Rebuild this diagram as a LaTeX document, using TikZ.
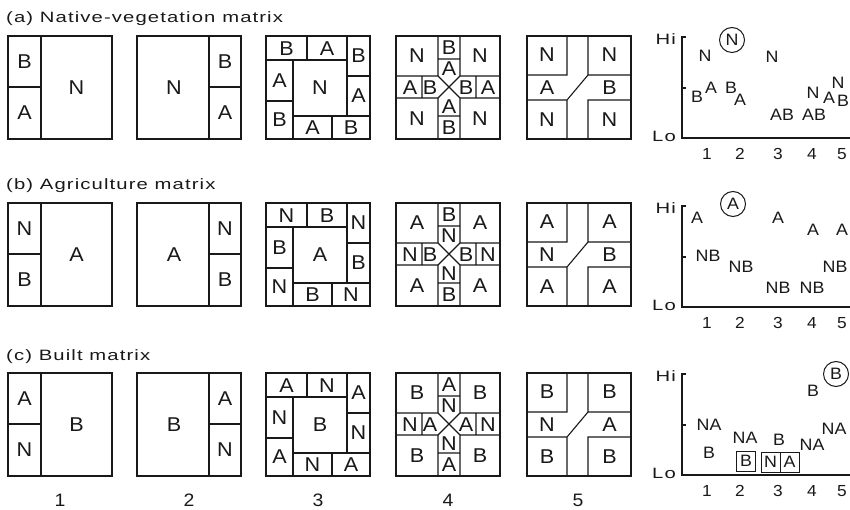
\documentclass[tikz,border=0pt]{standalone}
\usepackage{fontspec}
\setmainfont[FakeStretch=1.08]{Liberation Sans}
\newfontfamily\widefont[FakeStretch=1.35,LetterSpace=7.5]{Liberation Sans}
\definecolor{ink}{RGB}{25,25,25}

% panel type 1: strip on the left, split in two
\newcommand\pOne[5]{%
  \begin{scope}[shift={#2}, name prefix=#1-]
    \draw[cell] (0,0) rectangle (104,103);
    \draw[cell] (33,0) -- (33,103) (0,51) -- (33,51);
    \node[lab] (s1) at (16.5,26) {#3};
    \node[lab] (s2) at (16.5,77) {#4};
    \node[lab] (m)  at (68.5,52) {#5};
  \end{scope}}
% panel type 2: strip on the right, split in two
\newcommand\pTwo[5]{%
  \begin{scope}[shift={#2}, name prefix=#1-]
    \draw[cell] (0,0) rectangle (104,103);
    \draw[cell] (72,0) -- (72,103) (72,51) -- (104,51);
    \node[lab] (s1) at (88,26) {#3};
    \node[lab] (s2) at (88,77) {#4};
    \node[lab] (m)  at (37,52) {#5};
  \end{scope}}
% panel type 3: pinwheel of bars round a central patch
\newcommand\pThree[5]{%
  \begin{scope}[shift={#2}, name prefix=#1-]
    \draw[cell] (0,0) rectangle (104,103);
    \draw[cell] (0,24) -- (81,24) (81,0) -- (81,80) (27,24) -- (27,103)
                (27,80) -- (104,80) (41,0) -- (41,24) (81,40) -- (104,40)
                (66,80) -- (66,103) (0,65) -- (27,65);
    \node[lab] (c)  at (54,52)    {#3};
    \node[lab] (t1) at (20.5,12.5) {#4};
    \node[lab] (t2) at (61,12.5)   {#5};
    \node[lab] (r1) at (92.5,20)   {#4};
    \node[lab] (r2) at (92.5,60)   {#5};
    \node[lab] (b1) at (46.5,91.5) {#5};
    \node[lab] (b2) at (85,91.5)   {#4};
    \node[lab] (l1) at (13.5,44.5) {#5};
    \node[lab] (l2) at (13.5,84)   {#4};
  \end{scope}}
% panel type 4: cross of corridors meeting in an X
\newcommand\pFour[5]{%
  \begin{scope}[shift={#2}, name prefix=#1-]
    \draw[cell] (0,0) rectangle (104,103);
    \draw[cell] (42,0) -- (42,40) -- (0,40) (64,0) -- (64,40) -- (104,40)
                (42,103) -- (42,62) -- (0,62) (64,103) -- (64,62) -- (104,62)
                (42,40) -- (64,62) (64,40) -- (42,62)
                (42,23) -- (64,23) (42,80) -- (64,80)
                (26,40) -- (26,62) (80,40) -- (80,62);
    \node[lab] (q1) at (21,20)   {#3};
    \node[lab] (q2) at (84,20)   {#3};
    \node[lab] (q3) at (21,82.5) {#3};
    \node[lab] (q4) at (84,82.5) {#3};
    \node[lab] (to) at (53,11.5) {#4};
    \node[lab] (ti) at (53,33)   {#5};
    \node[lab] (lo) at (14,51.5) {#5};
    \node[lab] (li) at (34,51.5) {#4};
    \node[lab] (ri) at (70,51.5) {#4};
    \node[lab] (ro) at (92,51.5) {#5};
    \node[lab] (bi) at (53,71)   {#5};
    \node[lab] (bo) at (53,91.5) {#4};
  \end{scope}}
% panel type 5: corridor with a diagonal link
\newcommand\pFive[5]{%
  \begin{scope}[shift={#2}, name prefix=#1-]
    \draw[cell] (0,0) rectangle (104,103);
    \draw[cell] (40,0) -- (40,39) -- (0,39) (61,0) -- (61,39) -- (104,39)
                (0,64) -- (40,64) -- (40,103) (104,64) -- (61,64) -- (61,103)
                (40,64) -- (61,39);
    \node[lab] (q1) at (20,19)    {#3};
    \node[lab] (q2) at (82.5,19)  {#3};
    \node[lab] (ml) at (20,51.5)  {#4};
    \node[lab] (mr) at (82.5,51.5){#5};
    \node[lab] (q3) at (20,83.5)  {#3};
    \node[lab] (q4) at (82.5,83.5){#3};
  \end{scope}}
% axes of a rating chart; #2 is the level of the Lo line
\newcommand\rateaxes[2]{%
  \begin{scope}[shift={(0,#2)}, name prefix=#1-]
    \draw[axis] (686,-101) -- (682,-101) -- (682,0) -- (860,0);
    \draw[axis] (682,-50) -- (686,-50);
    \node[small, anchor=east] (hi) at (676,-99) {Hi};
    \node[small, anchor=east] (lo) at (676,-1.5) {Lo};
    \node[num] (n1) at (707,16) {1};
    \node[num] (n2) at (740,16) {2};
    \node[num] (n3) at (778,16) {3};
    \node[num] (n4) at (812,16) {4};
    \node[num] (n5) at (842,16) {5};
  \end{scope}}

\begin{document}
\begin{tikzpicture}[x=1pt,y=-1pt,
  cell/.style={draw=ink, line width=1.1pt, line join=miter},
  axis/.style={draw=ink, line width=1.1pt},
  lab/.style={font=\fontsize{20}{20}\selectfont, inner sep=0pt, text=ink},
  pt/.style={font=\fontsize{16.5}{16.5}\selectfont, inner sep=0pt, text=ink},
  num/.style={font=\fontsize{16}{16}\selectfont, inner sep=0pt, text=ink},
  colnum/.style={font=\fontsize{18}{18}\selectfont, inner sep=0pt, text=ink},
  small/.style={font=\widefont\fontsize{15}{15}\selectfont, inner sep=0pt, text=ink},
  title/.style={small, anchor=base west},
  ring/.style={circle, draw=ink, line width=1pt, minimum size=25pt},
  tag/.style={draw=ink, line width=1pt, minimum width=19pt, minimum height=20pt}]
\useasboundingbox (0,0) rectangle (850,510);

% ---- row titles
\node[title] (ta) at (6,23)  {(a) Native-vegetation matrix};
\node[title] (tb) at (6,190) {(b) Agriculture matrix};
\node[title] (tc) at (6,360) {(c) Built matrix};

% ---- (a) native-vegetation matrix
\pOne  {a1}{(8,36)}  {B}{A}{N}
\pTwo  {a2}{(137,36)}{B}{A}{N}
\pThree{a3}{(266,36)}{N}{B}{A}
\pFour {a4}{(396,36)}{N}{B}{A}
\pFive {a5}{(527,36)}{N}{A}{B}

% ---- (b) agriculture matrix
\pOne  {b1}{(8,203)}  {N}{B}{A}
\pTwo  {b2}{(137,203)}{N}{B}{A}
\pThree{b3}{(266,203)}{A}{N}{B}
\pFour {b4}{(396,203)}{A}{B}{N}
\pFive {b5}{(527,203)}{A}{N}{B}

% ---- (c) built matrix
\pOne  {c1}{(8,373)}  {A}{N}{B}
\pTwo  {c2}{(137,373)}{A}{N}{B}
\pThree{c3}{(266,373)}{B}{A}{N}
\pFour {c4}{(396,373)}{B}{A}{N}
\pFive {c5}{(527,373)}{B}{N}{A}

% ---- column numbers
\node[colnum] (k1) at (60,500)  {1};
\node[colnum] (k2) at (189,500) {2};
\node[colnum] (k3) at (318,500) {3};
\node[colnum] (k4) at (448,500) {4};
\node[colnum] (k5) at (578,500) {5};

% ---- rating charts
\rateaxes{ga}{138}
\rateaxes{gb}{307}
\rateaxes{gc}{475}

% chart (a)
\node[pt] (ga-n1) at (705,56)  {N};
\node[pt, ring] (ga-top) at (732,40) {N};
\node[pt] (ga-n3) at (772,57)  {N};
\node[pt] (ga-b1) at (697,97)  {B};
\node[pt] (ga-a1) at (711,88)  {A};
\node[pt] (ga-b2) at (731,88)  {B};
\node[pt] (ga-a2) at (740,100) {A};
\node[pt] (ga-ab3) at (782,115) {AB};
\node[pt] (ga-ab4) at (814,115) {AB};
\node[pt] (ga-n4) at (813,93)  {N};
\node[pt] (ga-a5) at (829,98)  {A};
\node[pt] (ga-n5) at (838,83)  {N};
\node[pt] (ga-b5) at (843,101) {B};

% chart (b)
\node[pt] (gb-a1) at (697,218) {A};
\node[pt, ring] (gb-top) at (733,204) {A};
\node[pt] (gb-a3) at (778,218) {A};
\node[pt] (gb-a4) at (813,230) {A};
\node[pt] (gb-a5) at (842,230) {A};
\node[pt] (gb-nb1) at (708,256) {NB};
\node[pt] (gb-nb2) at (741,267) {NB};
\node[pt] (gb-nb3) at (778,288) {NB};
\node[pt] (gb-nb4) at (812,288) {NB};
\node[pt] (gb-nb5) at (835,267) {NB};

% chart (c)
\node[pt, ring] (gc-top) at (836,374) {B};
\node[pt] (gc-b4) at (813,391) {B};
\node[pt] (gc-na1) at (709,425) {NA};
\node[pt] (gc-b1) at (709,453) {B};
\node[pt] (gc-na2) at (745,438) {NA};
\node[pt, tag] (gc-b2) at (746,461) {B};
\node[pt] (gc-b3) at (779,440) {B};
\node[pt, tag] (gc-n3) at (770.5,462) {N};
\node[pt, tag] (gc-a3) at (789.5,462) {A};
\node[pt] (gc-na4) at (812,445) {NA};
\node[pt] (gc-na5) at (834,429) {NA};
\end{tikzpicture}
\end{document}
